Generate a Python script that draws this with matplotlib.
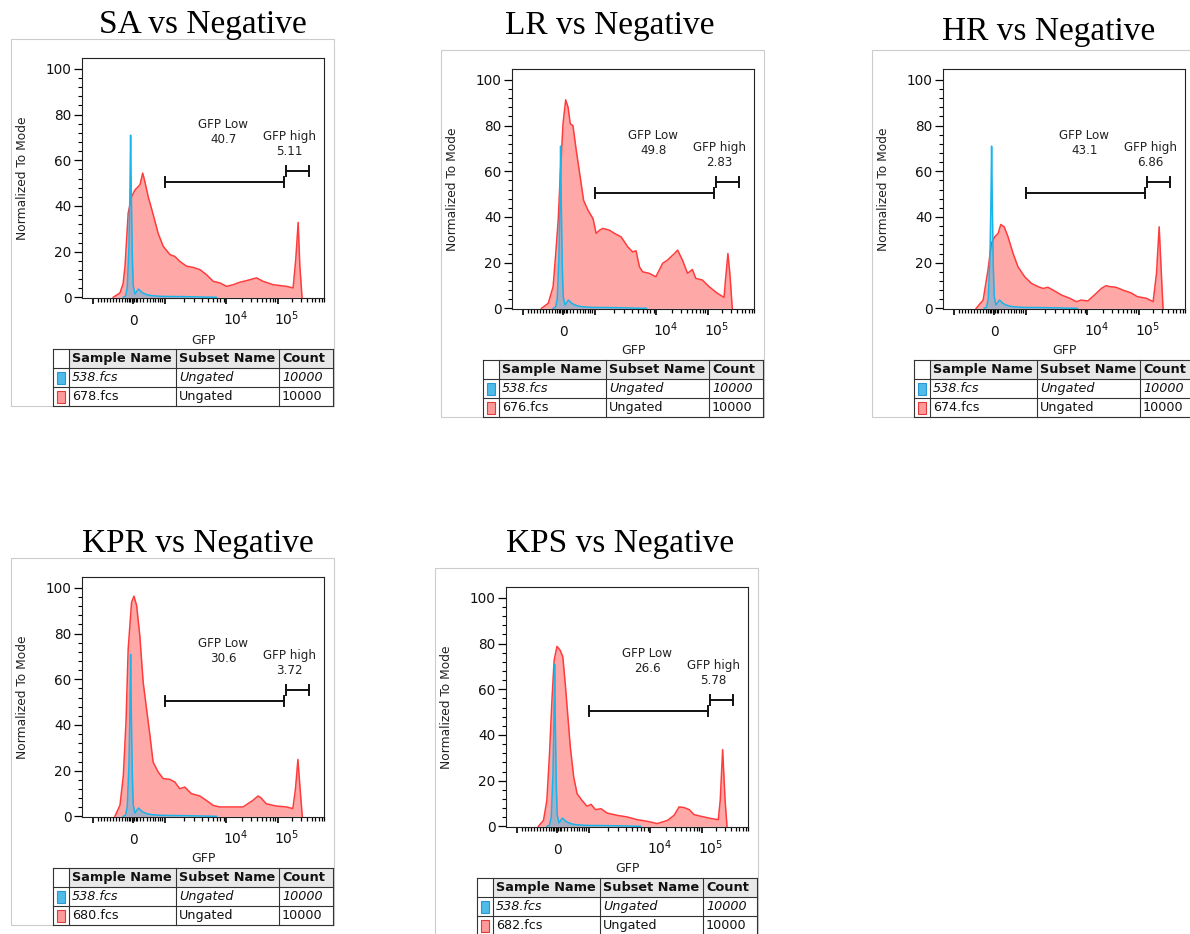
import numpy as np
import matplotlib.pyplot as plt
from matplotlib.patches import Rectangle

W, H = 1190, 934

titles = ['SA vs Negative', 'LR vs Negative', 'HR vs Negative', 'KPR vs Negative', 'KPS vs Negative']
samples = ['678.fcs', '676.fcs', '674.fcs', '680.fcs', '682.fcs']
gfp_low = ['40.7', '49.8', '43.1', '30.6', '26.6']
gfp_high = ['5.11', '2.83', '6.86', '3.72', '5.78']
control_name = '538.fcs'
subset = 'Ungated'
count = '10000'

# x is the position on the biexponential GFP axis (0..1 of axis width), y is % of mode
neg_x = [0.170, 0.180, 0.187, 0.194, 0.198, 0.201, 0.204, 0.208, 0.212, 0.219, 0.226, 0.233,
         0.240, 0.247, 0.258, 0.270, 0.290, 0.330, 0.420, 0.556]
neg_y = [0, 0.5, 4, 22, 45, 71, 45, 18, 5, 1.5, 2.5, 3.6, 3.0, 2.2, 1.6, 1.1, 0.7, 0.4, 0.3, 0]

sa_x = [0.129, 0.157, 0.170, 0.178, 0.191, 0.205, 0.219, 0.240, 0.251, 0.260, 0.274, 0.295,
        0.315, 0.336, 0.364, 0.384, 0.405, 0.433, 0.460, 0.488, 0.515, 0.543, 0.570, 0.598,
        0.625, 0.653, 0.680, 0.722, 0.749, 0.791, 0.846, 0.873, 0.884, 0.894, 0.901, 0.910]
sa_y = [0, 1.9, 6, 13.6, 36.9, 44, 47, 49.3, 54.4, 50.7, 44, 36, 28, 22.3, 18.7, 17.9, 15.7,
        13.6, 13.1, 12.1, 9.9, 7.0, 6.3, 4.8, 5.5, 6.6, 7.3, 8.5, 7.0, 5.5, 4.8, 4.1, 16.5,
        32.8, 13.6, 0]

lr_x = [0.122, 0.150, 0.170, 0.181, 0.191, 0.200, 0.211, 0.222, 0.232, 0.241, 0.252, 0.266,
        0.280, 0.296, 0.314, 0.335, 0.348, 0.362, 0.376, 0.403, 0.424, 0.451, 0.479, 0.499,
        0.513, 0.527, 0.540, 0.568, 0.595, 0.623, 0.643, 0.672, 0.685, 0.705, 0.726, 0.746,
        0.760, 0.787, 0.815, 0.849, 0.877, 0.883, 0.893, 0.901, 0.911]
lr_y = [0, 2.2, 9.5, 24, 38.6, 59, 80.8, 91.3, 88, 80.8, 80, 69, 59, 47.3, 43, 39.3, 32.8,
        34.2, 35, 34.2, 32.8, 31.3, 26.9, 24.7, 25.2, 18.2, 16, 15.3, 13.8, 19.7, 21.1, 24,
        25.5, 21.1, 15.3, 17, 13.1, 12.4, 9.5, 6.6, 4.8, 12.4, 24, 15.3, 0]

hr_x = [0.137, 0.166, 0.186, 0.200, 0.214, 0.228, 0.239, 0.253, 0.269, 0.290, 0.310, 0.338,
        0.366, 0.393, 0.414, 0.434, 0.455, 0.490, 0.524, 0.552, 0.571, 0.599, 0.626, 0.655,
        0.674, 0.690, 0.716, 0.743, 0.777, 0.804, 0.841, 0.869, 0.883, 0.894, 0.903, 0.910]
hr_y = [0, 3.6, 16.7, 28.4, 31.3, 32.8, 36.7, 35.7, 31.3, 24, 18.2, 13.8, 10.9, 9.5, 8.7, 9.2,
        8, 5.8, 4.4, 2.9, 3.6, 3.2, 5.8, 8.7, 9.9, 9.5, 9.2, 8, 6.8, 5.1, 4.4, 2.9, 15.3,
        35.7, 15.3, 0]

kpr_x = [0.136, 0.157, 0.171, 0.182, 0.191, 0.205, 0.215, 0.226, 0.239, 0.253, 0.267, 0.281,
         0.294, 0.315, 0.336, 0.363, 0.384, 0.404, 0.425, 0.453, 0.487, 0.514, 0.542, 0.569,
         0.624, 0.666, 0.686, 0.707, 0.728, 0.741, 0.762, 0.803, 0.845, 0.872, 0.883, 0.893,
         0.902, 0.911]
kpr_y = [0, 4.8, 17.9, 41.3, 73.3, 93.7, 96.4, 92.3, 79.2, 58.7, 47, 35.4, 23.8, 19.4, 16.5,
         16.2, 15, 12.1, 12.8, 9.9, 8.9, 7, 4.8, 4.1, 4.1, 4.1, 5.5, 7, 8.9, 8, 5.5, 4.5, 4.1,
         3.4, 12.1, 24.9, 12.1, 0]

kps_x = [0.134, 0.155, 0.169, 0.180, 0.190, 0.199, 0.211, 0.224, 0.235, 0.245, 0.255, 0.266,
         0.280, 0.294, 0.314, 0.335, 0.352, 0.370, 0.393, 0.418, 0.460, 0.501, 0.543, 0.584,
         0.626, 0.668, 0.695, 0.716, 0.737, 0.758, 0.778, 0.806, 0.848, 0.878, 0.886, 0.896,
         0.906, 0.914]
kps_y = [0, 2.6, 11.4, 31.8, 55.2, 72.7, 78.8, 77.1, 74.2, 62.5, 49.3, 34.7, 21.6, 14.3, 11.4,
         8.8, 9.6, 7.3, 7.7, 5.8, 4.8, 4.1, 2.9, 2.2, 1.2, 2.6, 4.8, 8.5, 8.2, 7.3, 5.1, 4.4,
         3.4, 2.9, 11.4, 33.6, 11.4, 0]

curves = [(sa_x, sa_y), (lr_x, lr_y), (hr_x, hr_y), (kpr_x, kpr_y), (kps_x, kps_y)]

# layout: pixel offsets of each panel relative to the first one, title anchor
offsets = [(0, 0), (430, 11), (861, 11), (0, 519), (424, 529)]
title_pos = [(203, 33), (610, 34), (1049, 40), (198, 552), (620, 552)]

RED_LINE, RED_FILL = '#ff3b3b', '#ffa8a8'
BLUE_LINE, BLUE_FILL = '#19b4ea', '#3cb4e6'

# axis ticks on the display scale
x_major = [0.046, 0.211, 0.345, 0.597, 0.81]
x_minor = (list(np.linspace(0.066, 0.165, 9)) + [0.178, 0.186, 0.193, 0.199, 0.205, 0.217, 0.223, 0.229]
           + [0.24, 0.254, 0.268, 0.28, 0.292, 0.303, 0.313, 0.322, 0.331]
           + [0.345 + 0.252 * np.log10(k) for k in range(2, 10)]
           + [0.597 + 0.213 * np.log10(k) for k in range(2, 10)]
           + [0.81 + 0.2 * np.log10(k) for k in range(2, 10)])

fig = plt.figure(figsize=(W / 100, H / 100), dpi=100)
bg = fig.add_axes([0, 0, 1, 1])
bg.set_xlim(0, W)
bg.set_ylim(H, 0)
bg.axis('off')


def fig_rect(x0, y0, x1, y1):
    return [x0 / W, 1 - y1 / H, (x1 - x0) / W, (y1 - y0) / H]


def draw_table(ox, oy, sample):
    x0, y0 = 53 + ox, 349 + oy
    cols = [0, 16, 123, 226, 280]
    rows = [0, 19, 38, 57]
    bg.add_patch(Rectangle((x0 + cols[1], y0), cols[4] - cols[1], rows[1],
                           facecolor='#e8e8e8', edgecolor='none'))
    for c in cols:
        bg.plot([x0 + c, x0 + c], [y0, y0 + rows[-1]], color='#333333', lw=0.8)
    for r in rows:
        bg.plot([x0, x0 + cols[-1]], [y0 + r, y0 + r], color='#333333', lw=0.8)
    head = ['Sample Name', 'Subset Name', 'Count']
    body = [[control_name, subset, count], [sample, subset, count]]
    for j, t in enumerate(head):
        bg.text(x0 + cols[j + 1] + 3, y0 + rows[1] / 2, t, fontsize=9.3, fontweight='bold',
                ha='left', va='center', color='#111111', clip_on=True)
    for i, row in enumerate(body):
        style = 'italic' if i == 0 else 'normal'
        yc = y0 + (rows[i + 1] + rows[i + 2]) / 2
        for j, t in enumerate(row):
            bg.text(x0 + cols[j + 1] + 3, yc, t, fontsize=9.2, fontstyle=style,
                    ha='left', va='center', color='#111111', clip_on=True)
    sw = [(BLUE_FILL, '#1a90d0'), ('#ff9a9a', '#e03a3a')]
    for i, (fc, ec) in enumerate(sw):
        bg.add_patch(Rectangle((x0 + 4, y0 + rows[i + 1] + 4), 8, 12, facecolor=fc,
                               edgecolor=ec, lw=0.8, alpha=0.9 if i == 0 else 1))


for k in range(5):
    ox, oy = offsets[k]
    # panel frame
    bg.add_patch(Rectangle((11 + ox, 39 + oy), 323, 367, facecolor='white',
                           edgecolor='#cccccc', lw=0.8))
    tx, ty = title_pos[k]
    bg.text(tx, ty, titles[k], fontsize=24, family='Liberation Serif', ha='center',
            va='baseline', color='black')
    draw_table(ox, oy, samples[k])

    ax = fig.add_axes(fig_rect(82 + ox, 58 + oy, 324 + ox, 298 + oy))
    xs, ys = curves[k]
    ax.fill_between(xs, ys, 0, color=RED_FILL, lw=0, zorder=1)
    ax.fill_between(neg_x, neg_y, 0, color=BLUE_FILL, alpha=0.45, lw=0, zorder=2)
    ax.plot(xs, ys, color=RED_LINE, lw=1.1, zorder=3, solid_joinstyle='round')
    ax.plot(neg_x, neg_y, color=BLUE_LINE, lw=1.1, zorder=4, solid_joinstyle='round')

    ax.set_xlim(0, 1)
    ax.set_ylim(-0.3, 104.8)
    ax.set_yticks([0, 20, 40, 60, 80, 100])
    ax.set_yticks(np.arange(0, 101, 4), minor=True)
    ax.set_xticks(x_major)
    ax.set_xticks(x_minor, minor=True)
    ax.set_xticklabels([])
    ax.tick_params(axis='y', which='major', direction='out', length=5.5, width=0.9,
                   pad=2, labelsize=9.8, labelcolor='#111111')
    ax.tick_params(axis='y', which='minor', direction='out', length=2.8, width=0.8)
    ax.tick_params(axis='x', which='major', direction='out', length=4.5, width=1.2)
    ax.tick_params(axis='x', which='minor', direction='out', length=2.6, width=0.9)
    for s in ax.spines.values():
        s.set_linewidth(0.8)
        s.set_color('#222222')

    xt = ax.get_xaxis_transform()
    ax.text(0.211, -0.112, '0', transform=xt, ha='center', va='baseline', fontsize=9.8, color='#111111')
    ax.text(0.597 - 0.013, -0.112, r'$\mathregular{10^4}$', transform=xt, ha='left',
            va='baseline', fontsize=10, color='#111111')
    ax.text(0.81 - 0.016, -0.112, r'$\mathregular{10^5}$', transform=xt, ha='left',
            va='baseline', fontsize=10, color='#111111')
    ax.text(0.5, -0.175, 'GFP', transform=ax.transAxes, ha='center', va='center', fontsize=9,
            color='#222222')
    ax.text(-0.244, 0.5, 'Normalized To Mode', transform=ax.transAxes, rotation=90,
            ha='center', va='center', fontsize=8.8, color='#222222')

    # gates
    for (a, b, yv) in [(0.342, 0.834, 50.7), (0.845, 0.937, 55.4)]:
        ax.plot([a, b], [yv, yv], color='#111111', lw=1.4, zorder=5)
        ax.plot([a, a], [yv - 2.2, yv + 2.2], color='#111111', lw=1.4, zorder=5)
        ax.plot([b, b], [yv - 2.2, yv + 2.2], color='#111111', lw=1.4, zorder=5)
    ax.text(0.585, 75.8, 'GFP Low', ha='center', va='center', fontsize=8.6, color='#222222')
    ax.text(0.585, 69.2, gfp_low[k], ha='center', va='center', fontsize=8.6, color='#222222')
    ax.text(0.857, 70.5, 'GFP high', ha='center', va='center', fontsize=8.6, color='#222222')
    ax.text(0.857, 63.8, gfp_high[k], ha='center', va='center', fontsize=8.6, color='#222222')

fig.savefig('out.png', dpi=100)
